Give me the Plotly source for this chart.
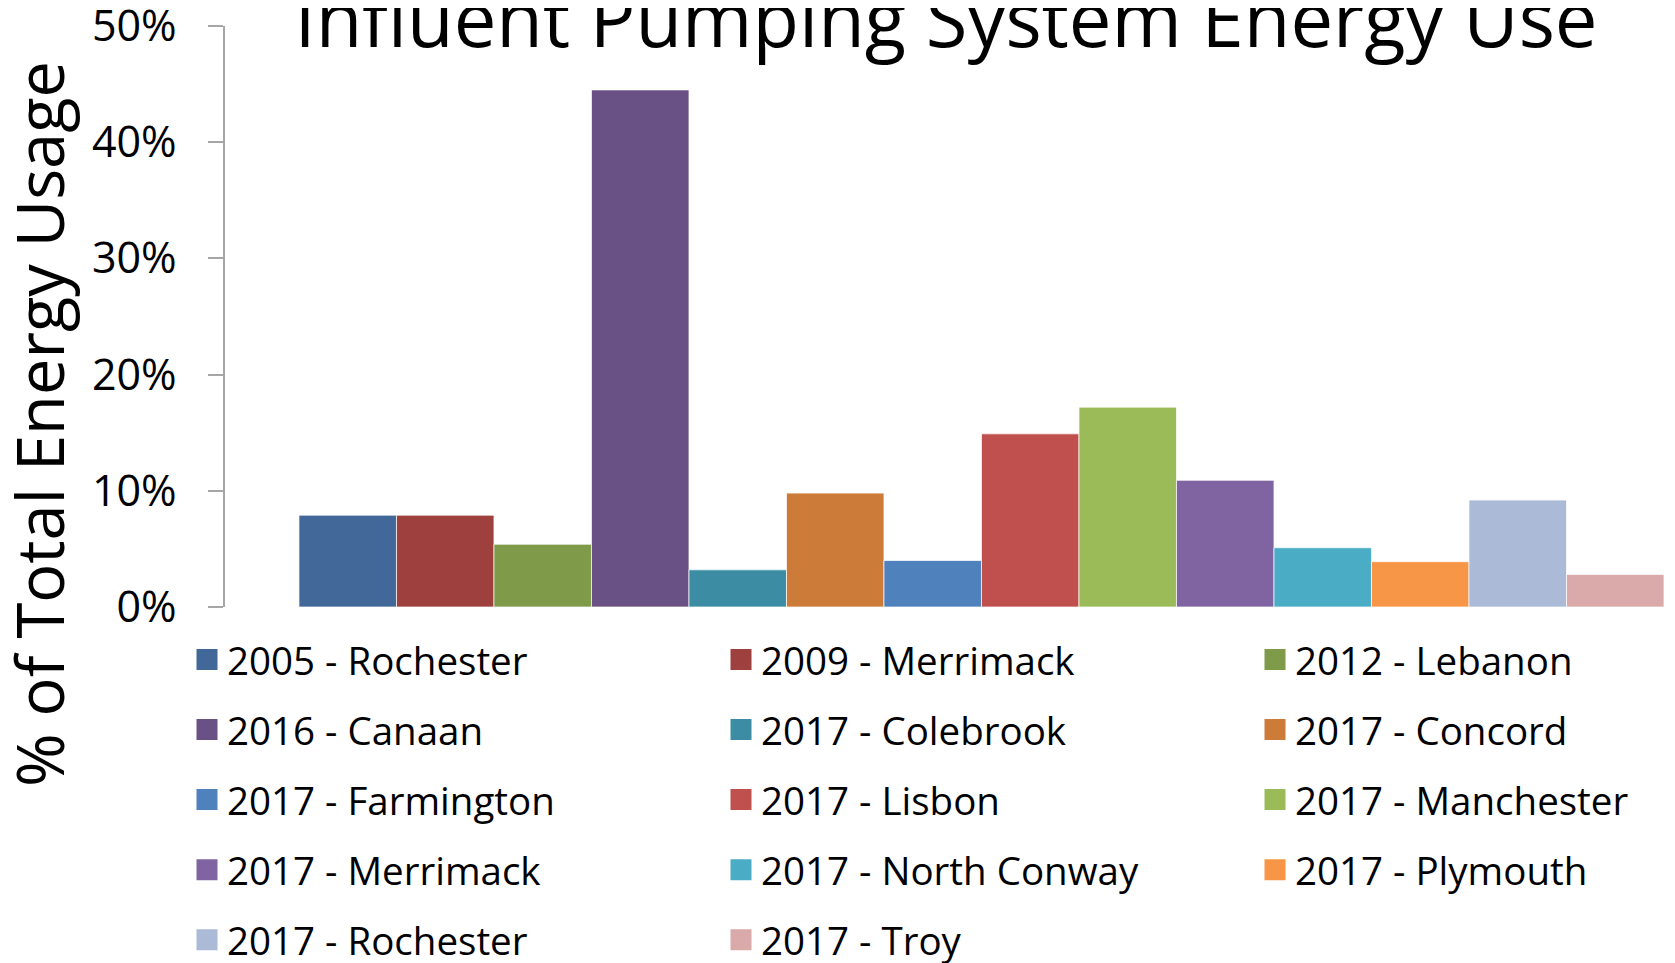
import plotly.graph_objects as go

# one category, one bar per plant
plants = [
    "2005 - Rochester", "2009 - Merrimack", "2012 - Lebanon", "2016 - Canaan",
    "2017 - Colebrook", "2017 - Concord", "2017 - Farmington", "2017 - Lisbon",
    "2017 - Manchester", "2017 - Merrimack", "2017 - North Conway", "2017 - Plymouth",
    "2017 - Rochester", "2017 - Troy",
]
energy_share = [0.079, 0.079, 0.054, 0.445, 0.032, 0.098, 0.040, 0.149,
                0.172, 0.109, 0.051, 0.039, 0.092, 0.028]
bar_colors = ["#426899", "#9E413E", "#7F9A48", "#695185", "#3C8DA3", "#CC7B38",
              "#4F81BD", "#C0504D", "#9BBB59", "#8064A2", "#4BACC6", "#F79646",
              "#AABAD7", "#D9AAA9"]
y_ticks = [0, 0.1, 0.2, 0.3, 0.4, 0.5]

FONT = "Open Sans"
W, H = 1675, 963
L, T, B = 217, 18, 364   # page body adds 8px offset
PW = W - L
PH = H - T - B
legend_ids = ["legend", "legend2", "legend3"]

fig = go.Figure()
for name, val, col in zip(plants, energy_share, bar_colors):
    fig.add_trace(go.Bar(
        x=[""], y=[val], name=name, showlegend=False,
        marker=dict(color=col, line=dict(color="rgba(255,255,255,0.7)", width=1)),
    ))
# legend swatches, laid out row by row over three columns
for i, (name, col) in enumerate(zip(plants, bar_colors)):
    fig.add_trace(go.Scatter(
        x=[None], y=[None], mode="markers", name=name, legendgroup=name,
        legend=legend_ids[i % 3],
        marker=dict(symbol="square", size=16, color=col, line=dict(color=col, width=5)),
    ))

leg = dict(orientation="v", xanchor="left", y=-0.0361, yanchor="top",
           font=dict(size=38.5, family=FONT), tracegroupgap=17,
           traceorder="grouped", itemclick=False, bgcolor="rgba(0,0,0,0)")
fig.update_layout(
    width=W, height=H,
    margin=dict(l=L, r=0, t=T, b=B, autoexpand=False),
    paper_bgcolor="white", plot_bgcolor="white",
    barmode="group", bargap=0.5, bargroupgap=0,
    font=dict(family=FONT, color="black"),
    title=dict(text="Influent Pumping System Energy Use", font=dict(size=76, family=FONT),
               x=938 / W, xanchor="center", xref="container",
               y=0.9868, yanchor="middle", yref="container"),
    showlegend=True,
    legend=dict(leg, x=(179 - L) / PW),
    legend2=dict(leg, x=(713 - L) / PW),
    legend3=dict(leg, x=(1247 - L) / PW),
)
fig.update_xaxes(range=[-0.2771, -0.2771 + PW / 2730], showticklabels=False, showline=False,
                 showgrid=False, zeroline=False, ticks="")
fig.update_yaxes(range=[0, 0.5], tickvals=y_ticks, tickformat=".0%",
                 tickfont=dict(size=43, family=FONT), showgrid=False, zeroline=False,
                 showline=True, linecolor="#A6A6A6", linewidth=1.5,
                 ticks="outside", ticklen=15, tickcolor="#A6A6A6", tickwidth=1.5,
                 ticklabelstandoff=23, ticklabeloverflow="allow")
fig.add_annotation(text="% of Total Energy Usage", textangle=-90, showarrow=False,
                   xref="paper", yref="paper", x=(31 - L) / PW, y=(H - B - 416) / PH,
                   xanchor="center", yanchor="middle", font=dict(size=65, family=FONT))

fig.write_html("out.html")
